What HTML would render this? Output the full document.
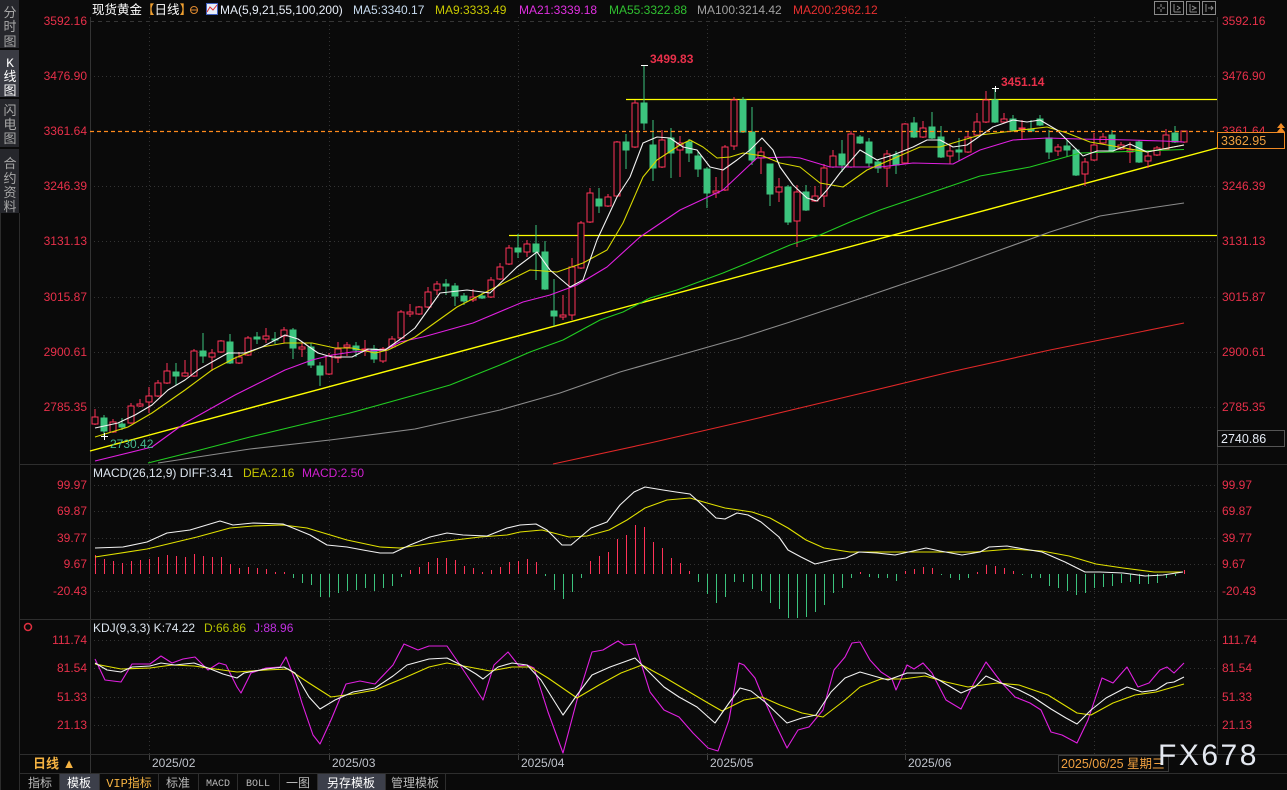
<!DOCTYPE html>
<html><head><meta charset="utf-8"><style>
html,body{margin:0;padding:0;background:#0a0a0a;width:1287px;height:790px;overflow:hidden}
svg{display:block}
text{font-family:"Liberation Sans","Noto Sans CJK SC",sans-serif}
.ax{font-size:12px;fill:#e8304a}
.g{stroke:#333;stroke-width:1;stroke-dasharray:1 3}
</style></head><body>
<svg width="1287" height="790" viewBox="0 0 1287 790" xmlns="http://www.w3.org/2000/svg">
<rect width="1287" height="790" fill="#0a0a0a"/>
<!-- sidebar -->
<rect x="0" y="0" width="19" height="48" fill="#26272c"/>
<rect x="0" y="50" width="19" height="47" fill="#3a3b43"/>
<rect x="0" y="99" width="19" height="48" fill="#26272c"/>
<rect x="0" y="149" width="19" height="64" fill="#26272c"/>
<line x1="19.5" y1="213" x2="19.5" y2="790" stroke="#2c2c2c"/>
<line x1="0.5" y1="213" x2="0.5" y2="790" stroke="#2c2c2c"/>
<g font-size="13" fill="#a8a8a8" text-anchor="middle">
<text x="10" y="17">分</text><text x="10" y="31">时</text><text x="10" y="46">图</text>
<text x="10" y="67" fill="#fff" style="font-family:'Liberation Mono',monospace">K</text><text x="10" y="81" fill="#fff">线</text><text x="10" y="95" fill="#fff">图</text>
<text x="10" y="115">闪</text><text x="10" y="129">电</text><text x="10" y="143">图</text>
<text x="10" y="168">合</text><text x="10" y="183">约</text><text x="10" y="197">资</text><text x="10" y="211">料</text>
</g>
<!-- axis lines & separators -->
<line x1="90.5" y1="17" x2="90.5" y2="773" stroke="#333"/>
<line x1="1217.5" y1="17" x2="1217.5" y2="754" stroke="#333"/>
<line x1="20" y1="464.5" x2="1287" y2="464.5" stroke="#2e2e2e"/>
<line x1="20" y1="619.5" x2="1287" y2="619.5" stroke="#2e2e2e"/>
<line x1="20" y1="754.5" x2="1287" y2="754.5" stroke="#2e2e2e"/>
<line x1="20" y1="773.5" x2="1287" y2="773.5" stroke="#2e2e2e"/>
<!-- horizontal grid -->
<line x1="90" y1="21.5" x2="1217" y2="21.5" stroke="#363636" stroke-dasharray="4 4"/>
<g class="g">
<line x1="90" y1="76.5" x2="1217" y2="76.5"/><line x1="90" y1="186.5" x2="1217" y2="186.5"/>
<line x1="90" y1="241.5" x2="1217" y2="241.5"/><line x1="90" y1="297.5" x2="1217" y2="297.5"/>
<line x1="90" y1="352.5" x2="1217" y2="352.5"/><line x1="90" y1="407.5" x2="1217" y2="407.5"/>
<line x1="90" y1="485.5" x2="1217" y2="485.5"/><line x1="90" y1="511.5" x2="1217" y2="511.5"/>
<line x1="90" y1="538.5" x2="1217" y2="538.5"/><line x1="90" y1="564.5" x2="1217" y2="564.5"/>
<line x1="90" y1="591.5" x2="1217" y2="591.5"/>
<line x1="90" y1="640.5" x2="1217" y2="640.5"/><line x1="90" y1="668.5" x2="1217" y2="668.5"/>
<line x1="90" y1="697.5" x2="1217" y2="697.5"/><line x1="90" y1="725.5" x2="1217" y2="725.5"/>
<line x1="149.5" y1="17" x2="149.5" y2="754"/><line x1="329.5" y1="17" x2="329.5" y2="754"/>
<line x1="518.5" y1="17" x2="518.5" y2="754"/><line x1="707.5" y1="17" x2="707.5" y2="754"/>
<line x1="905.5" y1="17" x2="905.5" y2="754"/><line x1="1094.5" y1="17" x2="1094.5" y2="754"/>
</g>
<!-- header -->
<text x="92" y="14" font-size="12.5" fill="#ffffff">现货黄金<tspan fill="#f0a030">【</tspan>日线<tspan fill="#f0a030">】</tspan></text>
<circle cx="194" cy="10" r="3.5" fill="none" stroke="#e08a30"/><line x1="190.5" y1="10" x2="197.5" y2="10" stroke="#e08a30"/>
<rect x="206.5" y="3.5" width="11" height="11" fill="#e8eef8" stroke="#4060c0"/>
<polyline points="207,12 210,7 213,10 217,5" fill="none" stroke="#e03030"/>
<g font-size="12">
<text x="220" y="14" fill="#e8eef8">MA(5,9,21,55,100,200)</text>
<text x="353" y="14" fill="#c8dcf0">MA5:3340.17</text>
<text x="435" y="14" fill="#c8c800">MA9:3333.49</text>
<text x="519" y="14" fill="#e030e0">MA21:3339.18</text>
<text x="609" y="14" fill="#30c030">MA55:3322.88</text>
<text x="697" y="14" fill="#a0a0a0">MA100:3214.42</text>
<text x="793" y="14" fill="#e83030">MA200:2962.12</text>
</g>
<g fill="none" stroke="#8a8a8a">
<rect x="1154.5" y="1.5" width="13" height="13"/><rect x="1170.5" y="1.5" width="13" height="13"/>
<rect x="1186.5" y="1.5" width="13" height="13"/><rect x="1202.5" y="1.5" width="13" height="13"/>
<path d="M1161 4V7M1161 9V12M1157 8H1160M1162 8H1165M1174 4V12M1174 12H1181M1177 6L1180 8L1177 10M1190 4V12M1190 12H1197M1192 6L1196 8L1192 10M1206 4V12M1208 8H1213M1211 6L1213 8L1211 10"/>
</g>
<!-- axis labels -->
<g class="ax" text-anchor="end">
<text x="87" y="25">3592.16</text><text x="87" y="80">3476.90</text><text x="87" y="135">3361.64</text>
<text x="87" y="190">3246.39</text><text x="87" y="245">3131.13</text><text x="87" y="301">3015.87</text>
<text x="87" y="356">2900.61</text><text x="87" y="411">2785.35</text>
<text x="87" y="489">99.97</text><text x="87" y="515">69.87</text><text x="87" y="542">39.77</text>
<text x="87" y="568">9.67</text><text x="87" y="595">-20.43</text>
<text x="87" y="644">111.74</text><text x="87" y="672">81.54</text><text x="87" y="701">51.33</text><text x="87" y="729">21.13</text>
</g>
<g class="ax">
<text x="1222" y="25">3592.16</text><text x="1222" y="80">3476.90</text><text x="1222" y="135">3361.64</text>
<text x="1222" y="190">3246.39</text><text x="1222" y="245">3131.13</text><text x="1222" y="301">3015.87</text>
<text x="1222" y="356">2900.61</text><text x="1222" y="411">2785.35</text>
<text x="1222" y="489">99.97</text><text x="1222" y="515">69.87</text><text x="1222" y="542">39.77</text>
<text x="1222" y="568">9.67</text><text x="1222" y="595">-20.43</text>
<text x="1222" y="644">111.74</text><text x="1222" y="672">81.54</text><text x="1222" y="701">51.33</text><text x="1222" y="729">21.13</text>
</g>
<!-- long lines -->
<line x1="90" y1="451" x2="1217" y2="148" stroke="#ffff00" stroke-width="1.4"/>
<line x1="626" y1="99.5" x2="1217" y2="99.5" stroke="#ffff00" stroke-width="1.2"/>
<line x1="509" y1="235.5" x2="1217" y2="235.5" stroke="#ffff00" stroke-width="1.2"/>
<!-- candles -->
<g shape-rendering="crispEdges">
<path fill="#0a0a0a" stroke="#ff3358" d="M95 409V417M95 424V425M92 417h6V424h-6zM113 419V422M113 432V433M110 422h6V432h-6zM131 403V406M131 423V424M128 406h6V423h-6zM140 399V404M140 406V407M137 404h6V406h-6zM149 387V396M149 402V413M146 396h6V402h-6zM158 380V383M158 396V397M155 383h6V396h-6zM167 363V371M167 383V384M164 371h6V383h-6zM185 360V373M185 376V377M182 373h6V376h-6zM194 349V351M194 376V377M191 351h6V376h-6zM212 349V353M212 357V371M209 353h6V357h-6zM221 340V341M221 352V353M218 341h6V352h-6zM239 352V357M239 363V364M236 357h6V363h-6zM248 336V338M248 355V356M245 338h6V355h-6zM266 328V336M266 339V343M263 336h6V339h-6zM284 327V330M284 336V343M281 330h6V336h-6zM302 342V347M302 349V357M299 347h6V349h-6zM329 353V356M329 374V375M326 356h6V374h-6zM338 342V349M338 358V363M335 349h6V358h-6zM347 342V345M347 347V356M344 345h6V347h-6zM365 340V349M365 350V356M362 349h6V350h-6zM383 347V349M383 361V363M380 349h6V361h-6zM392 336V339M392 347V348M389 339h6V347h-6zM401 310V312M401 338V339M398 312h6V338h-6zM410 304V312M410 314V317M407 312h6V314h-6zM419 306V307M419 314V315M416 307h6V314h-6zM428 287V292M428 307V308M425 292h6V307h-6zM437 281V284M437 290V295M434 284h6V290h-6zM473 289V297M473 300V302M470 297h6V300h-6zM491 277V280M491 297V298M488 280h6V297h-6zM500 263V267M500 279V280M497 267h6V279h-6zM509 245V248M509 264V265M506 248h6V264h-6zM527 240V244M527 252V257M524 244h6V252h-6zM563 295V315M563 317V320M560 315h6V317h-6zM572 258V267M572 315V320M569 267h6V315h-6zM581 221V223M581 268V269M578 223h6V268h-6zM590 188V193M590 222V223M587 193h6V222h-6zM608 194V197M608 206V207M605 197h6V206h-6zM617 141V142M617 196V197M614 142h6V196h-6zM635 100V103M635 147V148M632 103h6V147h-6zM662 130V140M662 167V168M659 140h6V167h-6zM680 136V143M680 150V177M677 143h6V150h-6zM716 177V191M716 193V198M713 191h6V193h-6zM725 145V147M725 190V191M722 147h6V190h-6zM734 97V100M734 146V150M731 100h6V146h-6zM761 147V152M761 158V174M758 152h6V158h-6zM779 178V187M779 192V202M776 187h6V192h-6zM797 185V192M797 221V247M794 192h6V221h-6zM815 186V196M815 201V202M812 196h6V201h-6zM824 164V168M824 196V207M821 168h6V196h-6zM833 150V156M833 167V168M830 156h6V167h-6zM851 131V134M851 167V168M848 134h6V167h-6zM887 150V154M887 168V187M884 154h6V168h-6zM905 123V124M905 163V164M902 124h6V163h-6zM923 121V128M923 137V138M920 128h6V137h-6zM950 144V151M950 156V164M947 151h6V156h-6zM968 132V137M968 152V153M965 137h6V152h-6zM977 113V122M977 135V136M974 122h6V135h-6zM986 91V100M986 122V123M983 100h6V122h-6zM1004 113V119M1004 122V123M1001 119h6V122h-6zM1022 120V128M1022 129V139M1019 128h6V129h-6zM1058 144V147M1058 151V156M1055 147h6V151h-6zM1085 158V162M1085 174V186M1082 162h6V174h-6zM1094 133V145M1094 160V161M1091 145h6V160h-6zM1103 133V137M1103 143V144M1100 137h6V143h-6zM1121 142V145M1121 149V150M1118 145h6V149h-6zM1130 142V150M1130 152V163M1127 150h6V152h-6zM1148 152V156M1148 161V168M1145 156h6V161h-6zM1157 146V148M1157 155V156M1154 148h6V155h-6zM1166 129V135M1166 149V150M1163 135h6V149h-6zM1184 142V143M1181 131h6V142h-6z"/>
<path fill="#3cc47e" stroke="#3cc47e" d="M104 415V418M104 431V436M101 418h6V431h-6zM122 418V424M122 427V430M119 424h6V427h-6zM176 363V372M176 376V385M173 372h6V376h-6zM203 333V351M203 356V363M200 351h6V356h-6zM230 334V342M230 363V364M227 342h6V363h-6zM257 332V337M257 339V344M254 337h6V339h-6zM275 332V339M275 340V344M272 339h6V340h-6zM293 328V330M293 348V359M290 330h6V348h-6zM311 343V347M311 365V368M308 347h6V365h-6zM320 362V366M320 375V386M317 366h6V375h-6zM356 342V346M356 350V357M353 346h6V350h-6zM374 345V349M374 359V363M371 349h6V359h-6zM446 279V284M446 286V295M443 284h6V286h-6zM455 283V286M455 296V306M452 286h6V296h-6zM464 293V296M464 301V305M461 296h6V301h-6zM482 293V296M482 298V299M479 296h6V298h-6zM518 234V248M518 252V258M515 248h6V252h-6zM536 225V244M536 252V280M533 244h6V252h-6zM545 241V252M545 289V290M542 252h6V289h-6zM554 279V311M554 316V326M551 311h6V316h-6zM599 188V199M599 206V213M596 199h6V206h-6zM626 134V142M626 150V169M623 142h6V150h-6zM644 65V103M644 123V130M641 103h6V123h-6zM653 120V145M653 168V181M650 145h6V168h-6zM671 128V138M671 153V178M668 138h6V153h-6zM689 139V142M689 153V162M686 142h6V153h-6zM698 152V156M698 169V177M695 156h6V169h-6zM707 167V169M707 193V208M704 169h6V193h-6zM743 97V100M743 132V133M740 100h6V132h-6zM752 107V132M752 160V165M749 132h6V160h-6zM770 194V206M767 164h6V194h-6zM788 185V187M788 222V225M785 187h6V222h-6zM806 185V192M806 210V211M803 192h6V210h-6zM842 140V154M842 165V172M839 154h6V165h-6zM860 135V137M860 143V144M857 137h6V143h-6zM869 138V142M869 163V167M866 142h6V163h-6zM878 159V162M878 168V173M875 162h6V168h-6zM896 151V155M896 165V174M893 155h6V165h-6zM914 117V123M914 137V138M911 123h6V137h-6zM932 112V127M932 138V139M929 127h6V138h-6zM941 126V137M941 157V158M938 137h6V157h-6zM959 138V150M959 152V161M956 150h6V152h-6zM995 88V100M995 122V123M992 100h6V122h-6zM1013 115V119M1013 130V131M1010 119h6V130h-6zM1031 120V129M1031 131V132M1028 129h6V131h-6zM1040 115V119M1040 125V126M1037 119h6V125h-6zM1049 130V138M1049 152V159M1046 138h6V152h-6zM1067 140V146M1067 150V157M1064 146h6V150h-6zM1076 148V150M1076 175V176M1073 150h6V175h-6zM1112 130V135M1112 150V151M1109 135h6V150h-6zM1139 140V142M1139 162V163M1136 142h6V162h-6zM1175 126V133M1175 142V143M1172 133h6V142h-6z"/>
</g>
<!-- MAs -->
<g fill="none" stroke-width="1.1" stroke-linejoin="round">
<polyline stroke="#e02828" points="553,464 650,443 750,420 850,396 950,372 1050,350 1120,336 1184,323"/>
<polyline stroke="#8c8c8c" points="158,463 250,449 330,440 415,429 500,410 560,393 620,372 680,355 740,338 790,322 850,302 900,285 950,268 1000,250 1050,232 1100,216 1150,208 1184,203"/>
<polyline stroke="#22cc22" points="148,463 200,450 250,437 300,425 350,413 415,395 450,385 500,365 530,352 563,340 600,320 623,312 650,298 677,290 723,273 750,262 790,245 820,235 850,222 880,210 930,193 980,176 1030,167 1080,153 1113,152 1184,149.5"/>
<polyline stroke="#e020e0" points="95,461 152,447 185,423 235,395 285,370 312,360 332,355 352,352 385,350 400,342 423,337 473,323 523,302 550,295 577,285 607,267 640,237 680,210 723,190 757,158 790,157 800,158 830,167 880,167 913,163 953,164 980,150 1013,140 1047,138 1080,139 1130,140 1163,141 1184,142"/>
<polyline stroke="#d8d800" points="95,437 128,427 152,413 185,390 212,370 235,358 262,347 285,343 312,343 335,348 352,348 375,353 388,350 415,337 457,307 490,290 530,270 557,272 583,263 607,250 623,223 643,177 657,160 680,145 690,140 703,147 717,158 730,157 743,153 763,156 780,163 800,167 820,183 843,187 867,170 897,157 920,147 940,147 953,143 980,135 1013,131 1047,127 1067,133 1090,142 1113,146 1147,152 1184,145"/>
<polyline stroke="#f2f2f2" points="95,428 118,423 135,415 152,405 168,390 185,380 198,370 212,362 228,353 245,353 262,347 285,335 298,339 318,353 332,357 352,357 368,349 385,350 402,338 415,328 440,293 467,290 490,293 517,267 537,252 550,270 570,287 583,280 597,240 617,197 630,177 643,143 657,137 670,138 683,147 697,150 710,167 723,170 737,160 750,150 762,138 773,150 780,167 793,185 807,198 817,201 827,190 840,173 860,150 877,160 893,155 913,147 927,140 940,140 953,147 967,145 980,136 993,127 1013,120 1027,122 1040,120 1057,130 1070,143 1083,156 1097,151 1113,151 1130,144 1147,152 1163,149 1184,145"/>
</g>
<!-- current price line -->
<line x1="90" y1="131.5" x2="1217" y2="131.5" stroke="#ff8a1c" stroke-width="1.2" stroke-dasharray="4 3"/>
<!-- markers -->
<g stroke="#ffffff"><path d="M641 65.5H648M101 436.5H108M104.5 433V440M992 88.5H999M995.5 86V92"/></g>
<text x="650" y="63" font-size="12" font-weight="bold" fill="#e8304a">3499.83</text>
<text x="1001" y="86" font-size="12" font-weight="bold" fill="#e8304a">3451.14</text>
<text x="110" y="448" font-size="12" fill="#45b890">2730.42</text>
<!-- right boxes -->
<polygon points="1281,123 1285,128 1277,128" fill="#f08a24"/><polygon points="1281,127 1285,132 1277,132" fill="#f08a24"/>
<rect x="1217.5" y="132.5" width="67" height="16" fill="#0a0a0a" stroke="#f08a24"/>
<text x="1221" y="145" font-size="12.5" fill="#f0a040">3362.95</text>
<rect x="1217.5" y="430.5" width="67" height="16" fill="#0a0a0a" stroke="#555"/>
<text x="1221" y="443" font-size="12.5" fill="#e8eef8">2740.86</text>
<!-- MACD -->
<text x="93" y="477" font-size="12"><tspan fill="#dde6f0">MACD(26,12,9) DIFF:3.41</tspan><tspan x="243" fill="#c8c800">DEA:2.16</tspan><tspan x="302" fill="#d020d0">MACD:2.50</tspan></text>
<g transform="translate(0.5,0)">
<path stroke="#ff3358" d="M95 574V555M104 574V559M113 574V561M122 574V563M131 574V561M140 574V560M149 574V559M158 574V557M167 574V555M176 574V556M185 574V557M194 574V554M203 574V556M212 574V557M221 574V557M230 574V564M239 574V568M248 574V567M257 574V568M266 574V569M275 574V572M284 574V572M410 574V570M419 574V567M428 574V562M437 574V558M446 574V558M455 574V560M464 574V566M473 574V568M482 574V572M491 574V570M500 574V567M509 574V562M518 574V561M527 574V559M536 574V562M590 574V561M599 574V556M608 574V552M617 574V539M626 574V535M635 574V525M644 574V527M653 574V542M662 574V548M671 574V558M680 574V563M689 574V571M860 574V572M905 574V571M914 574V569M923 574V567M932 574V568M977 574V572M986 574V565M995 574V566M1004 574V568M1013 574V571M1184 574V570"/>
<path stroke="#3cc47e" d="M293 574V578M302 574V583M311 574V585M320 574V597M329 574V597M338 574V593M347 574V591M356 574V590M365 574V588M374 574V591M383 574V588M392 574V586M401 574V577M545 574V576M554 574V590M563 574V599M572 574V592M581 574V578M698 574V582M707 574V594M716 574V603M725 574V597M734 574V582M743 574V582M752 574V589M761 574V591M770 574V603M779 574V609M788 574V618M797 574V618M806 574V617M815 574V612M824 574V605M833 574V593M842 574V588M851 574V578M869 574V577M878 574V578M887 574V578M896 574V581M941 574V575M950 574V578M959 574V580M968 574V578M1022 574V575M1031 574V578M1040 574V578M1049 574V586M1058 574V588M1067 574V591M1076 574V595M1085 574V593M1094 574V588M1103 574V587M1112 574V586M1121 574V583M1130 574V582M1139 574V584M1148 574V584M1157 574V583M1166 574V578M1175 574V576"/>
</g>
<g fill="none" stroke-width="1.1" stroke-linejoin="round">
<polyline stroke="#e0e000" points="95,557 147,549 197,537 230,528 253,526 283,525 307,528 347,540 380,547 400,548 447,541 480,537 507,535 520,532 542,530 569,537 587,536 609,530 627,520 645,508 667,500 690,498 707,503 725,508 752,512 770,518 788,528 806,540 824,548 850,552 899,552 944,552 975,552 1011,549 1042,551 1069,556 1096,564 1123,568 1154,572 1183,572"/>
<polyline stroke="#f2f2f2" points="95,548 123,547 147,542 167,533 190,530 220,521 233,525 253,523 283,524 293,528 310,535 327,545 347,547 363,550 380,553 393,553 410,545 430,537 447,533 463,535 487,536 507,528 520,525 536,524 547,530 562,545 571,545 591,528 607,522 620,505 634,492 645,487 663,490 676,492 690,494 699,502 716,518 725,519 737,513 748,515 761,522 779,537 788,550 801,557 815,564 832,560 846,558 859,552 877,553 895,555 913,551 926,548 940,551 962,555 980,552 989,547 1007,546 1024,549 1042,552 1065,562 1085,572 1100,572 1123,573 1145,576 1163,575 1183,572"/>
</g>
<!-- KDJ -->
<circle cx="28" cy="627" r="3.5" fill="none" stroke="#e03040" stroke-width="1.5"/>
<text x="93" y="632" font-size="12"><tspan fill="#dde6f0">KDJ(9,3,3) K:74.22</tspan><tspan x="204" fill="#b8c400">D:66.86</tspan><tspan x="254" fill="#c030e0">J:88.96</tspan></text>
<g fill="none" stroke-width="1.1" stroke-linejoin="round">
<polyline stroke="#e020e0" points="95,659 105,680 121,682 132,664 150,664 161,656 172,663 183,659 195,657 208,670 219,663 226,665 237,687 241,693 251,673 266,668 280,667 286,657 295,680 302,703 313,735 320,744 331,720 346,684 360,681 375,684 393,665 404,644 418,650 429,646 447,646 458,662 472,683 483,700 494,665 508,652 519,666 527,665 534,668 548,712 563,753 577,700 592,652 603,650 618,641 624,645 635,644 650,692 664,710 679,717 693,733 708,748 718,751 729,720 739,663 744,665 755,678 762,695 773,719 787,748 798,730 809,727 823,710 834,670 845,657 852,643 860,642 870,660 881,672 892,679 896,690 907,665 914,669 923,663 932,673 946,700 961,709 974,683 986,662 1001,682 1015,697 1030,703 1041,710 1051,732 1062,735 1077,743 1088,720 1102,678 1113,683 1127,667 1138,687 1149,683 1160,670 1167,667 1174,673 1184,663"/>
<polyline stroke="#e0e000" points="95,664 121,669 150,668 172,665 194,666 215,669 237,672 266,670 288,669 309,683 331,697 353,694 375,690 404,678 429,667 447,663 469,667 490,671 512,667 530,667 548,678 577,698 599,685 621,673 642,665 664,677 686,690 708,703 722,711 744,700 762,697 780,705 802,713 823,717 845,700 860,687 881,679 903,679 925,676 946,682 968,687 997,683 1019,685 1048,695 1077,713 1091,715 1113,703 1135,695 1156,692 1184,684"/>
<polyline stroke="#f2f2f2" points="95,663 107,670 121,672 132,667 150,666 161,663 175,665 194,663 208,668 223,674 237,678 244,673 266,669 284,667 295,673 309,697 320,709 335,700 353,692 375,688 393,676 407,665 429,659 447,658 461,665 476,674 483,679 498,667 512,663 527,665 541,680 563,715 577,695 592,675 610,667 624,662 635,658 650,673 664,687 679,697 697,707 715,723 729,703 740,688 751,691 765,702 787,723 802,718 816,715 831,692 845,678 860,672 874,676 888,680 907,673 925,673 939,680 961,693 975,687 986,676 1001,683 1019,690 1033,697 1051,709 1066,718 1077,724 1091,710 1106,698 1127,687 1142,692 1156,690 1167,683 1174,682 1184,677"/>
</g>
<!-- date row -->
<g stroke="#444"><path d="M149.5 755V760M329.5 755V760M518.5 755V760M707.5 755V760M905.5 755V760"/></g>
<text x="33" y="768" font-size="13" font-weight="bold" fill="#f5b342">日线 ▲</text>
<g font-size="12" fill="#c0c4cc">
<text x="152" y="767">2025/02</text><text x="332" y="767">2025/03</text><text x="521" y="767">2025/04</text>
<text x="710" y="767">2025/05</text><text x="908" y="767">2025/06</text>
</g>
<rect x="1058.5" y="755.5" width="110" height="16" fill="#0a0a0a" stroke="#3a3a3a"/>
<text x="1061" y="768" font-size="12.5" fill="#f0a040">2025/06/25 星期三</text>
<text x="1158" y="765" font-size="30" letter-spacing="2.5" fill="#e4e8f0">FX678</text>
<!-- button row -->
<rect x="59" y="774" width="40" height="16" fill="#3c3f4a"/>
<rect x="318" y="774" width="67" height="16" fill="#3c3f4a"/>
<g stroke="#2e2e2e"><path d="M59.5 774V790M99.5 774V790M158.5 774V790M198.5 774V790M237.5 774V790M279.5 774V790M317.5 774V790M385.5 774V790M445.5 774V790"/></g>
<g font-size="12" fill="#b8b8b8" text-anchor="middle">
<text x="40" y="787">指标</text>
<text x="79" y="787" fill="#ffffff">模板</text>
<text x="129" y="787" fill="#f5b342"><tspan style="font-family:'Liberation Mono',monospace">VIP</tspan>指标</text>
<text x="178" y="787">标准</text>
<text x="218" y="786" font-size="10" style="font-family:'Liberation Mono',monospace">MACD</text>
<text x="258" y="786" font-size="10" style="font-family:'Liberation Mono',monospace">BOLL</text>
<text x="298" y="787">一图</text>
<text x="351" y="787" fill="#ffffff">另存模板</text>
<text x="415" y="787">管理模板</text>
</g>
</svg>
</body></html>
